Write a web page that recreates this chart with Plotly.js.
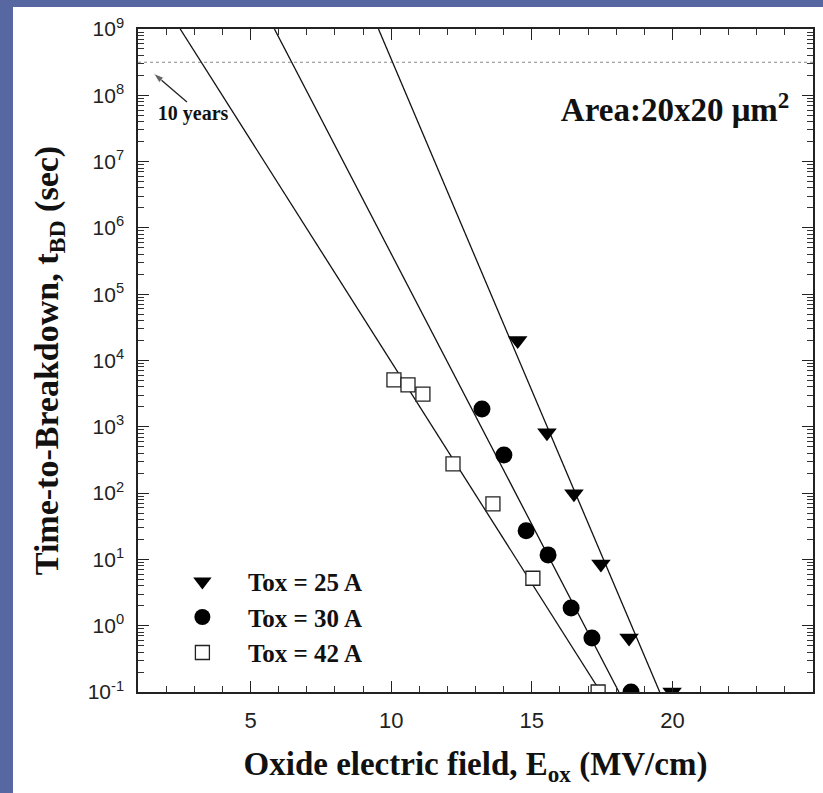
<!DOCTYPE html>
<html>
<head>
<meta charset="utf-8">
<script src="https://cdn.plot.ly/plotly-3.0.1.min.js"></script>
<style>
  html, body { margin: 0; padding: 0; width: 823px; height: 793px; background: #5667a2; overflow: hidden; }
  #chart { position: absolute; left: 13px; top: 7px; width: 810px; height: 786px; }
</style>
</head>
<body>
<div id="chart"></div>
<script>
// Measured breakdown data
const tox25X = [14.5, 15.54, 16.5, 17.46, 18.46, 19.99];
const tox25Y = [2.0e4, 810, 98, 8.5, 0.65, 0.1];
const tox30X = [13.23, 14.01, 14.8, 15.58, 16.4, 17.14, 18.53];
const tox30Y = [1860, 375, 27, 11.7, 1.85, 0.65, 0.1];
const tox42X = [10.1, 10.6, 11.13, 12.2, 13.62, 15.04, 17.36];
const tox42Y = [5100, 4300, 3100, 275, 69, 5.2, 0.1];

// Fit lines (end points)
const fit25X = [9.55, 19.55];
const fit25Y = [1e9, 1e-1];
const fit30X = [5.85, 18.1];
const fit30Y = [1e9, 1e-1];
const fit42X = [2.5, 17.45];
const fit42Y = [1e9, 1e-1];

const seriesNames = ['Tox = 25 A', 'Tox = 30 A', 'Tox = 42 A'];
const tenYearsSec = 3.15e8;
const xRange = [1, 25];

const yTickVals = [1e-1, 1, 10, 100, 1e3, 1e4, 1e5, 1e6, 1e7, 1e8, 1e9];
const yTickText = ['10<sup>-1</sup>', '10<sup>0</sup>', '10<sup>1</sup>', '10<sup>2</sup>', '10<sup>3</sup>',
  '10<sup>4</sup>', '10<sup>5</sup>', '10<sup>6</sup>', '10<sup>7</sup>', '10<sup>8</sup>', '10<sup>9</sup>'];
const xTickVals = [5, 10, 15, 20, 25];
const xTickText = ['5', '10', '15', '20', '25'];

// minor tick positions on the log axis (axis decoration)
const yMinorVals = [];
for (let d = -1; d < 9; d++) for (let k = 2; k <= 9; k++) yMinorVals.push(k * Math.pow(10, d));

// label placement (decoration, not data)
const labelTenYears = {x: 2.96, y: 5.0e7};
const arrowTail = {x: 2.74, y: 7.9e7};
const arrowHead = {x: 1.55, y: 2.15e8};

const serif = 'Liberation Serif, Times New Roman, serif';
const sans = 'Liberation Sans, Arial, Helvetica, sans-serif';

const lineStyle = {color: '#111', width: 1.3};
const traces = [
  {x: xRange, y: [tenYearsSec, tenYearsSec], mode: 'lines', line: {color: '#888', width: 1, dash: 'dot'}, showlegend: false, hoverinfo: 'skip'},
  {x: fit25X, y: fit25Y, mode: 'lines', line: lineStyle, showlegend: false, hoverinfo: 'skip'},
  {x: fit30X, y: fit30Y, mode: 'lines', line: lineStyle, showlegend: false, hoverinfo: 'skip'},
  {x: fit42X, y: fit42Y, mode: 'lines', line: lineStyle, showlegend: false, hoverinfo: 'skip'},
  {x: [arrowTail.x, arrowHead.x], y: [arrowTail.y, arrowHead.y], mode: 'lines+markers',
   line: {color: '#222', width: 1.3}, showlegend: false, hoverinfo: 'skip', cliponaxis: false,
   marker: {symbol: ['circle', 'arrow'], size: [0.1, 11], color: '#222', angleref: 'previous'}},
  {x: [labelTenYears.x], y: [labelTenYears.y], mode: 'text', text: ['<b>10 years</b>'],
   textfont: {family: serif, size: 20, color: '#111'}, showlegend: false, hoverinfo: 'skip', cliponaxis: false},
  {x: tox25X, y: tox25Y, mode: 'markers', name: seriesNames[0], legendgroup: 'a',
   marker: {symbol: 'triangle-down', size: 17, color: '#000'}},
  {x: tox30X, y: tox30Y, mode: 'markers', name: seriesNames[1], legendgroup: 'b',
   marker: {symbol: 'circle', size: 17, color: '#000'}},
  {x: tox42X, y: tox42Y, mode: 'markers', name: seriesNames[2], legendgroup: 'c',
   marker: {symbol: 'square', size: 14, color: '#fff', line: {color: '#222', width: 1.3}}}
];

const layout = {
  width: 810, height: 786,
  paper_bgcolor: '#ffffff', plot_bgcolor: 'rgba(0,0,0,0)',
  margin: {l: 125, r: 10, t: 22, b: 101},
  title: {
    text: '<b>Area:20x20 \u03bcm<sup>2</sup></b>',
    xref: 'paper', yref: 'paper', x: 0.965, y: 0.878, xanchor: 'right', yanchor: 'middle',
    font: {family: serif, size: 33, color: '#111'}
  },
  showlegend: true,
  legend: {
    x: 0.028, y: 0.201, xanchor: 'left', yanchor: 'top',
    bgcolor: 'rgba(0,0,0,0)', tracegroupgap: 0, itemwidth: 81,
    font: {family: serif, size: 25, color: '#111', weight: 'bold'}
  },
  xaxis: {
    type: 'linear', range: xRange,
    tickmode: 'array', tickvals: xTickVals, ticktext: xTickText,
    ticks: 'inside', ticklen: 11, tickwidth: 1, tickcolor: '#222',
    minor: {ticks: 'inside', ticklen: 6, dtick: 1, tick0: 0, tickcolor: '#333', showgrid: false},
    showline: true, linecolor: '#222', linewidth: 1.5, mirror: 'ticks', layer: 'above traces',
    showgrid: false, zeroline: false, ticklabelstandoff: 8,
    tickfont: {family: sans, size: 22, color: '#222'},
    title: {text: '<b>Oxide electric field, E<sub>ox</sub> (MV/cm)</b>', font: {family: serif, size: 33, color: '#111'}, standoff: 20}
  },
  yaxis: {
    type: 'log', range: [-1, 9],
    tickmode: 'array', tickvals: yTickVals, ticktext: yTickText,
    ticks: 'inside', ticklen: 11, tickwidth: 1, tickcolor: '#222',
    minor: {tickmode: 'array', tickvals: yMinorVals, ticks: 'inside', ticklen: 6, tickcolor: '#333', showgrid: false},
    showline: true, linecolor: '#222', linewidth: 1.5, mirror: 'ticks', layer: 'above traces',
    showgrid: false, zeroline: false, ticklabelstandoff: 8,
    tickfont: {family: sans, size: 21, color: '#222'},
    title: {text: '<b>Time-to-Breakdown, t<sub>BD</sub> (sec)</b>', font: {family: serif, size: 34, color: '#111'}, standoff: 19}
  }
};

Plotly.newPlot('chart', traces, layout, {displayModeBar: false});
</script>
</body>
</html>
